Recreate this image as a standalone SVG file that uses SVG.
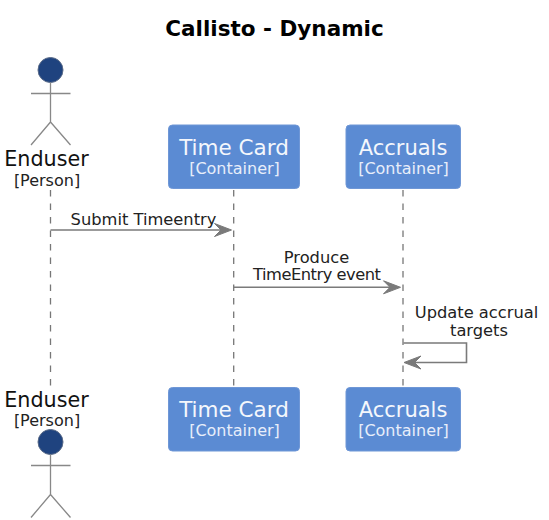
<svg xmlns="http://www.w3.org/2000/svg" width="549" height="520" viewBox="0 0 549 520">
<style>
text{font-family:"DejaVu Sans",sans-serif;text-anchor:middle}
.title{font-size:21.500px;font-weight:bold;fill:#000}
.name{font-size:20.700px;fill:#111}
.tag{font-size:16px;fill:#222}
.cn{font-size:21.500px;fill:#f4f7fc}
.cn2{font-size:21px;fill:#f4f7fc}
.ct{font-size:16px;fill:#e8eefa}
.lbl{font-size:16.300px;fill:#222}
.box{fill:#5B8BD3;stroke:#6F97D6;stroke-width:1}
.head{fill:#1F437F;stroke:#5A6B88;stroke-width:1}
.limb{fill:none;stroke:#888;stroke-width:1.3}
.life{stroke:#777;stroke-width:1.3;stroke-dasharray:6.500 7;fill:none}
.msg{stroke:#7a7a7a;stroke-width:1.600;fill:none}
.ah{fill:#7a7a7a;stroke:#7a7a7a;stroke-width:1;stroke-linejoin:round}
</style>
<text class="title" x="274.500" y="35.500">Callisto - Dynamic</text>
<g id="connectors">
<path class="life" d="M50.500 190V386"/>
<path class="life" d="M233.700 190V387"/>
<path class="life" d="M403 190V387"/>
<path class="msg" d="M50.500 230H225"/>
<path class="ah" d="M231.500 230L214.500 223.500L221 230L214.500 236.500Z"/>
<path class="msg" d="M234 287.300H394"/>
<path class="ah" d="M400.500 287.300L383.500 280.800L390 287.300L383.500 293.800Z"/>
<path class="msg" d="M403.500 343H466.500V362.500H410"/>
<path class="ah" d="M404 362.500L421 356L414.500 362.500L421 369Z"/>
<text class="lbl" x="143.500" y="224.500">Submit Timeentry</text>
<text class="lbl" x="316.500" y="262.500">Produce</text>
<text class="lbl" x="317" y="280" textLength="128">TimeEntry event</text>
<text class="lbl" x="476.500" y="318">Update accrual</text>
<text class="lbl" x="479" y="335.500">targets</text>
</g>
<g id="enduser-top">
<circle class="head" cx="50.500" cy="70" r="12.500"/>
<path class="limb" d="M50.500 82.500V122M31 93.500H70.500M50.500 122L31 145M50.500 122L70.500 145"/>
<text class="name" x="46.500" y="166">Enduser</text>
<text class="tag" x="47" y="186">[Person]</text>
</g>
<g id="timecard-top">
<rect class="box" x="168.500" y="125" width="131" height="63.500" rx="4"/>
<text class="cn" x="234" y="154.500">Time Card</text>
<text class="ct" x="234.500" y="173.500">[Container]</text>
</g>
<g id="accruals-top">
<rect class="box" x="346" y="125" width="114.500" height="63.500" rx="4"/>
<text class="cn2" x="403" y="154.500">Accruals</text>
<text class="ct" x="403.500" y="173.500">[Container]</text>
</g>
<g id="enduser-bottom">
<text class="name" x="46.500" y="406.500">Enduser</text>
<text class="tag" x="47" y="426">[Person]</text>
<circle class="head" cx="50.500" cy="442" r="12.500"/>
<path class="limb" d="M50.500 454.500V494.500M31 465.500H70.500M50.500 494.500L31 517.500M50.500 494.500L70.500 517.500"/>
</g>
<g id="timecard-bottom">
<rect class="box" x="168.500" y="387.500" width="131" height="63.500" rx="4"/>
<text class="cn" x="234" y="416.500">Time Card</text>
<text class="ct" x="234.500" y="435.500">[Container]</text>
</g>
<g id="accruals-bottom">
<rect class="box" x="346" y="387.500" width="114.500" height="63.500" rx="4"/>
<text class="cn2" x="403" y="416.500">Accruals</text>
<text class="ct" x="403.500" y="435.500">[Container]</text>
</g>
</svg>
